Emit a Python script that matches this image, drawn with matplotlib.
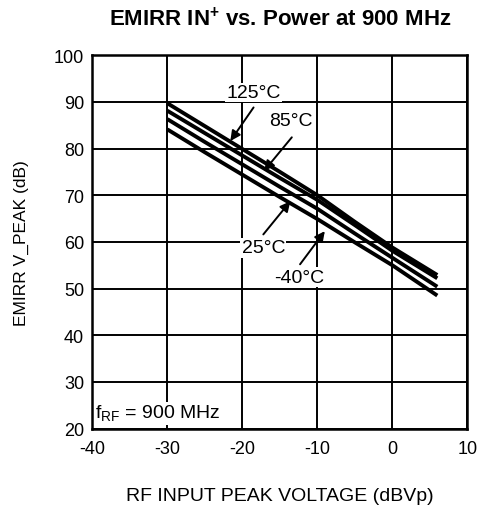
import numpy as np
import matplotlib
matplotlib.use("Agg")
import matplotlib.pyplot as plt

plt.rcParams['font.family'] = ['Liberation Sans', 'DejaVu Sans']
plt.rcParams['axes.unicode_minus'] = False
plt.rcParams['mathtext.fontset'] = 'custom'
plt.rcParams['mathtext.rm'] = 'Liberation Sans'
plt.rcParams['mathtext.bf'] = 'Liberation Sans:bold'

# data
vin = [-30, -25, -20, -15, -10, -5, 0, 6]
emirr_125 = [89.7, 84.8, 79.9, 75.0, 70.0, 64.3, 58.8, 52.9]
emirr_85 = [88.1, 83.3, 78.5, 73.7, 69.0, 63.6, 58.1, 52.2]
emirr_25 = [86.3, 81.4, 76.6, 71.8, 67.1, 61.8, 56.6, 50.4]
emirr_m40 = [84.1, 79.2, 74.4, 69.6, 64.9, 59.9, 55.0, 48.5]

fig = plt.figure(figsize=(4.86, 5.06), dpi=100)
ax = fig.add_axes([0.19, 0.151, 0.7715, 0.738])

for y in (emirr_125, emirr_85, emirr_25, emirr_m40):
    ax.plot(vin, y, color='black', lw=2.8, solid_capstyle='butt', zorder=3)

ax.set_xlim(-40, 10)
ax.set_ylim(20, 100)
ax.set_xticks(np.arange(-40, 11, 10))
ax.set_yticks(np.arange(20, 101, 10))
ax.grid(True, color='black', lw=1.4)
ax.tick_params(length=0, labelsize=13)
ax.tick_params(axis='x', pad=8)
ax.tick_params(axis='y', pad=6)
for s in ax.spines.values():
    s.set_linewidth(1.8)

# labels with arrows
notes = [("125°C", (-18.5, 92.0), (-18.5, 88.8), (-21.6, 81.6)),
         ("85°C", (-13.5, 85.9), (-13.4, 82.4), (-17.1, 75.2)),
         ("25°C", (-17.2, 58.7), (-17.2, 61.6), (-13.6, 68.7)),
         ("-40°C", (-12.4, 52.4), (-12.3, 55.2), (-9.0, 62.3))]
for txt, tpos, tail, tip in notes:
    ax.text(tpos[0], tpos[1], txt, ha='center', va='center', fontsize=14,
            zorder=5, bbox=dict(facecolor='white', edgecolor='none', pad=1.0))
    ax.annotate("", xy=tip, xytext=tail, zorder=6,
                arrowprops=dict(arrowstyle='-|>', color='black', lw=1.4,
                                mutation_scale=15, shrinkA=0, shrinkB=0))

ax.text(-39.6, 23.3, r"f$_\mathregular{RF}$ = 900 MHz", ha='left', va='center',
        fontsize=14, zorder=5,
        bbox=dict(facecolor='white', edgecolor='none', pad=1))

ax.set_title(r"EMIRR IN$^\mathbf{+}$ vs. Power at 900 MHz", fontsize=16,
             fontweight='bold', pad=22)
ax.set_xlabel("RF INPUT PEAK VOLTAGE (dBVp)", fontsize=14, labelpad=22)
ax.set_ylabel("EMIRR V_PEAK (dB)", fontsize=12.5, labelpad=18)

fig.savefig("out.png", dpi=100)
